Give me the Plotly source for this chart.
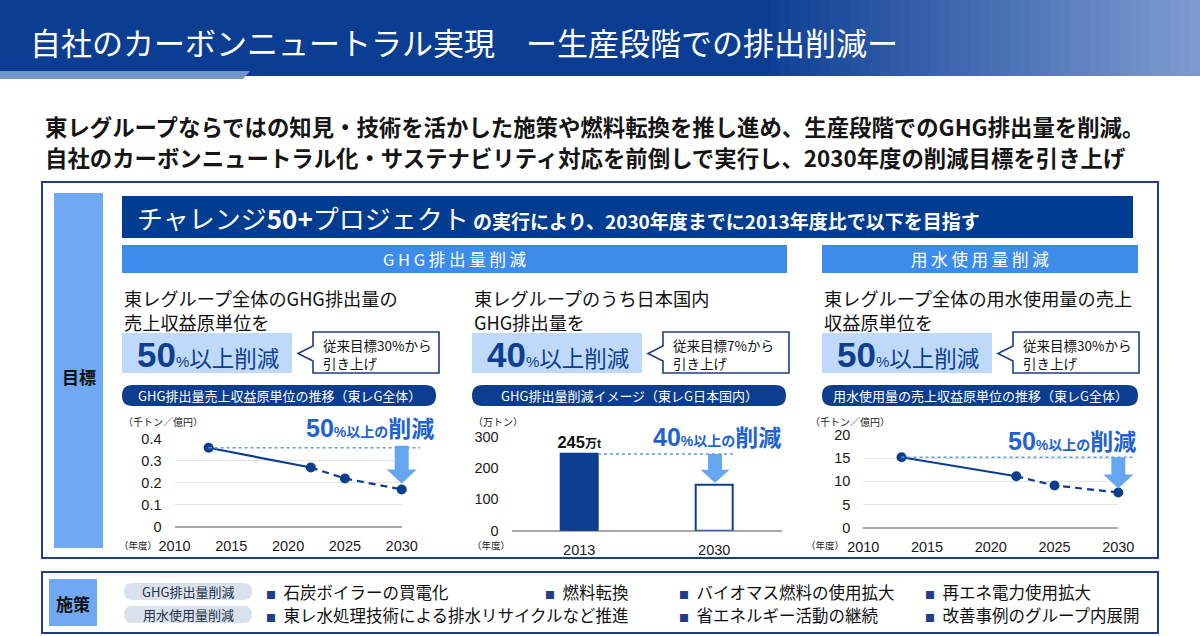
import plotly.graph_objects as go

W, H = 1200, 636

# ---------------- data ----------------
line_years = [2013, 2022, 2025, 2030]
ghg_intensity = [0.36, 0.27, 0.22, 0.17]      # 千トン/億円 (東レG全体)
water_intensity = [15.2, 11.1, 9.1, 7.6]      # 千トン/億円 (東レG全体)
n_actual = 2                                   # solid (actual) points, rest dashed (target)
bar_years = ["2013", "2030"]
japan_ghg = [245, 147]                         # 万トン (東レG日本国内)
line_xticks = [2010, 2015, 2020, 2025, 2030]
ghg_yticks = [0, 0.1, 0.2, 0.3, 0.4]
bar_yticks = [0, 100, 200, 300]
water_yticks = [0, 5, 10, 15, 20]

title_text = "自社のカーボンニュートラル実現　ー生産段階での排出削減ー"
lead_lines = ["東レグループならではの知見・技術を活かした施策や燃料転換を推し進め、生産段階でのGHG排出量を削減。",
              "自社のカーボンニュートラル化・サステナビリティ対応を前倒しで実行し、2030年度の削減目標を引き上げ"]
col_lines = [["東レグループ全体のGHG排出量の", "売上収益原単位を"],
             ["東レグループのうち日本国内", "GHG排出量を"],
             ["東レグループ全体の用水使用量の売上", "収益原単位を"]]
col_targets = ["50", "40", "50"]
col_old = ["従来目標30%から", "従来目標7%から", "従来目標30%から"]
col_pills = ["GHG排出量売上収益原単位の推移（東レG全体）", "GHG排出量削減イメージ（東レG日本国内）",
             "用水使用量の売上収益原単位の推移（東レG全体）"]
chart_emph = ["50", "40", "50"]
unit_labels = ["（千トン／億円）", "（万トン）", "（千トン／億円）"]
measures_row1 = ["石炭ボイラーの買電化", "燃料転換", "バイオマス燃料の使用拡大", "再エネ電力使用拡大"]
measures_row2 = ["東レ水処理技術による排水リサイクルなど推進", "省エネルギー活動の継続", "改善事例のグループ内展開"]

# ---------------- styles ----------------
JP = "Noto Sans CJK JP"
NUM = "Liberation Sans, Noto Sans CJK JP"
NAVY = "#0D3D8E"
HEAD = (11, 62, 147)
BRIGHT = "#3D8CEC"
LIGHTCOL = "#6FA8F3"
PALE = "#BFD9FA"
EMPH = "#1E63CF"
ARROW = "#66A6F0"
DOT = "#5A9BE8"


def X(px):
    return px / W


def Y(py):
    return 1 - py / H


shapes = []
annots = []


def rect(x0, y0, x1, y1, fill, line=None, lw=0):
    shapes.append(dict(type="rect", xref="paper", yref="paper", x0=X(x0), x1=X(x1), y0=Y(y1), y1=Y(y0),
                       fillcolor=fill, line=dict(color=line or fill, width=lw if line else 0), layer="below"))


def poly(pts, fill, line=None, lw=0, layer="below"):
    d = "M" + " L".join(f"{X(a):.5f},{Y(b):.5f}" for a, b in pts) + " Z"
    shapes.append(dict(type="path", xref="paper", yref="paper", path=d, fillcolor=fill,
                       line=dict(color=line or fill, width=lw if line else 0), layer=layer))


def rounded(x0, y0, x1, y1, r, fill):
    p = (f"M{X(x0 + r)},{Y(y0)} L{X(x1 - r)},{Y(y0)} Q{X(x1)},{Y(y0)} {X(x1)},{Y(y0 + r)} "
         f"L{X(x1)},{Y(y1 - r)} Q{X(x1)},{Y(y1)} {X(x1 - r)},{Y(y1)} L{X(x0 + r)},{Y(y1)} "
         f"Q{X(x0)},{Y(y1)} {X(x0)},{Y(y1 - r)} L{X(x0)},{Y(y0 + r)} Q{X(x0)},{Y(y0)} {X(x0 + r)},{Y(y0)} Z")
    shapes.append(dict(type="path", xref="paper", yref="paper", path=p, fillcolor=fill,
                       line=dict(width=0), layer="below"))


def text(x, y, t, size, color="#111", xanchor="left", family=JP, yanchor="middle"):
    annots.append(dict(xref="paper", yref="paper", x=X(x), y=Y(y), text=t, showarrow=False,
                       xanchor=xanchor, yanchor=yanchor, font=dict(size=size, color=color, family=family),
                       borderpad=0))


# ---------------- header ----------------
rect(0, 0, W, 76, "rgb(%d,%d,%d)" % HEAD)
g0, g1 = 760, W
n = 44
end = (128, 156, 210)
for i in range(n):
    t = (i + 0.5) / n
    c = tuple(int(HEAD[k] + (end[k] - HEAD[k]) * t) for k in range(3))
    xa = g0 + (g1 - g0) * i / n
    xb = g0 + (g1 - g0) * (i + 1) / n + 0.6
    rect(xa, 0, xb, 76, "rgb(%d,%d,%d)" % c)
poly([(0, 71), (250, 71), (243, 79), (0, 79)], "#7396D0")
text(29, 42, title_text, 31, "white")

for i, ln in enumerate(lead_lines):
    text(44, 126 + 31 * i, "<b>" + ln + "</b>", 22.4, "#151515")

# ---------------- goals box ----------------
rect(42, 182, 1158, 558, "white", "#1F3C88", 2)
rect(54, 193, 103, 548, LIGHTCOL)
text(78.5, 376, "<b>目標</b>", 17, "#111", "center")

rect(122, 196, 1133, 238, "#003C8F")
text(136, 217, "<span style='font-size:26px'>チャレンジ<b>50+</b>プロジェクト</span>"
               "<b><span style='font-size:19px'> の実行により、2030年度までに2013年度比で以下を目指す</span></b>",
     26, "white")

rect(122, 245, 787, 273, BRIGHT)
rect(822, 245, 1138, 273, BRIGHT)
text(455, 259.5, "G H G 排 出 量 削 減", 16.5, "white", "center")
text(980, 259.5, "用 水 使 用 量 削 減", 16.5, "white", "center")

col_x = [122, 472, 822]
call_x = [313, 663, 1013]
pill_x1 = [436, 786, 1138]
for i in range(3):
    x0 = col_x[i]
    text(x0 + 1, 298, col_lines[i][0], 18.2, "#111")
    text(x0 + 1, 321.5, col_lines[i][1], 18.2, "#111")
    rect(x0, 333, x0 + 170, 373, PALE)
    text(x0 + 86, 354, f"<b><span style='font-size:35px'>{col_targets[i]}</span></b>"
                       "<span style='font-size:15px'>%</span><span style='font-size:22.5px'>以上削減</span>",
         22.5, "#0E3F91", "center", NUM)
    cx = call_x[i]
    poly([(cx, 332), (cx + 126, 332), (cx + 126, 373), (cx, 373), (cx, 361), (cx - 15, 353.5), (cx, 346)],
         "white", "#1F3C88", 1.6)
    text(cx + 9, 345, col_old[i], 13.5, "#111")
    text(cx + 9, 363, "引き上げ", 13.5, "#111")
    rounded(x0, 385, pill_x1[i], 406, 10.5, NAVY)
    text((x0 + pill_x1[i]) / 2, 395.5, col_pills[i], 13, "white", "center")

# ---------------- measures box ----------------
rect(42, 572, 1158, 633, "white", "#1F3C88", 2)
rect(49, 579, 97, 626, LIGHTCOL)
text(73, 603, "<b>施策</b>", 17, "#111", "center")
rounded(124, 583, 252, 600, 8.5, "#D9E1EC")
rounded(124, 606, 252, 623, 8.5, "#D9E1EC")
text(188, 591.5, "GHG排出量削減", 13, "#26324A", "center")
text(188, 614.5, "用水使用量削減", 13, "#26324A", "center")
bul = "<span style='color:#1F3F8A;font-size:10px'>■</span>  "
for xx, t in zip([265, 544, 678, 924], measures_row1):
    text(xx, 591.5, bul + t, 16.5, "#111")
for xx, t in zip([265, 678, 924], measures_row2):
    text(xx, 614.5, bul + t, 16.5, "#111")

# ---------------- charts ----------------
c1 = dict(xd=(174.5, 401.7), yd=(526.7, 439.0), xr=(2010, 2030), yr=(0, 0.4))
c2 = dict(xd=(511.7, 781.7), yd=(530.7, 436.7), xr=(-0.5, 1.5), yr=(0, 300))
c3 = dict(xd=(863.3, 1118.3), yd=(527.7, 435.0), xr=(2010, 2030), yr=(0, 20))


def mx(c, v):
    return c["xd"][0] + (v - c["xr"][0]) / (c["xr"][1] - c["xr"][0]) * (c["xd"][1] - c["xd"][0])


def my(c, v):
    return c["yd"][0] + (v - c["yr"][0]) / (c["yr"][1] - c["yr"][0]) * (c["yd"][1] - c["yd"][0])


def arrow(cx, ytop, ytip, sw=14, hw=30, hh=14):
    poly([(cx - sw / 2, ytop), (cx + sw / 2, ytop), (cx + sw / 2, ytip - hh), (cx + hw / 2, ytip - hh),
          (cx, ytip), (cx - hw / 2, ytip - hh), (cx - sw / 2, ytip - hh)], ARROW, layer="above")


def dotted(x0, x1, y):
    shapes.append(dict(type="line", xref="paper", yref="paper", x0=X(x0), x1=X(x1), y0=Y(y), y1=Y(y),
                       line=dict(color=DOT, width=1.6, dash="dot"), layer="above"))


fig = go.Figure()

for vals, xa, ya in [(ghg_intensity, "x", "y"), (water_intensity, "x3", "y3")]:
    fig.add_trace(go.Scatter(x=line_years[:n_actual], y=vals[:n_actual], mode="lines",
                             line=dict(color=NAVY, width=2.2), xaxis=xa, yaxis=ya, cliponaxis=False))
    fig.add_trace(go.Scatter(x=line_years[n_actual - 1:], y=vals[n_actual - 1:], mode="lines",
                             line=dict(color=NAVY, width=2.2, dash="7px,5px"), xaxis=xa, yaxis=ya,
                             cliponaxis=False))
    fig.add_trace(go.Scatter(x=line_years, y=vals, mode="markers", marker=dict(color=NAVY, size=10),
                             xaxis=xa, yaxis=ya, cliponaxis=False))

fig.add_trace(go.Bar(x=bar_years, y=japan_ghg, width=0.28, xaxis="x2", yaxis="y2",
                     text=[f"<b>{japan_ghg[0]}<span style='font-size:12px'>万t</span></b>", ""],
                     textposition="outside", cliponaxis=False, constraintext="none",
                     textfont=dict(size=16.5, color="#111", family=NUM),
                     marker=dict(color=[NAVY, "white"], line=dict(color=NAVY, width=2))))

# reference lines, arrows, emphasis texts
dotted(mx(c1, line_years[0]), 420, my(c1, ghg_intensity[0]))
arrow(mx(c1, line_years[-1]), my(c1, ghg_intensity[0]) - 2, my(c1, ghg_intensity[-1]) - 6)
dotted(598, 733, my(c2, japan_ghg[0]))
arrow(715, my(c2, japan_ghg[0]), my(c2, japan_ghg[1]) - 2, hw=29, hh=13)
dotted(mx(c3, line_years[0]), 1133, my(c3, water_intensity[0]))
arrow(mx(c3, line_years[-1]), my(c3, water_intensity[0]), my(c3, water_intensity[-1]) - 4)

for xr_, yy, e in [(435, 428, chart_emph[0]), (782, 437, chart_emph[1]), (1137, 441, chart_emph[2])]:
    text(xr_, yy, f"<b><span style='font-size:25px'>{e}</span><span style='font-size:14px'>%以上の</span>"
                  f"<span style='font-size:23px'>削減</span></b>", 23, EMPH, "right", NUM)

for xx, u in zip([122, 472, 809], unit_labels):
    text(xx, 421.5, u, 10, "#222")
for xx in [118, 471, 805]:
    text(xx, 545, "（年度）", 9.5, "#222")

tickfont = dict(size=14.5, color="#1a1a1a", family=NUM)


def xdom(c):
    return [X(c["xd"][0]), X(c["xd"][1])]


def ydom(c):
    return [Y(c["yd"][0]), Y(c["yd"][1])]


common = dict(automargin=False, fixedrange=True, tickfont=tickfont)

fig.update_layout(
    width=W, height=H, margin=dict(l=0, r=0, t=0, b=0, pad=0), autosize=False,
    paper_bgcolor="white", plot_bgcolor="rgba(0,0,0,0)", showlegend=False,
    shapes=shapes, annotations=annots, bargap=0, uniformtext=dict(mode=False),
    xaxis=dict(domain=xdom(c1), range=list(c1["xr"]), tickvals=line_xticks, showgrid=False, zeroline=False,
               showline=False, ticklabelstandoff=9, anchor="y", **common),
    yaxis=dict(domain=ydom(c1), range=list(c1["yr"]), tickvals=ghg_yticks, showgrid=True, gridcolor="#E4E4E4",
               zeroline=True, zerolinecolor="#A8A8A8", zerolinewidth=2,
               ticklabelstandoff=12, anchor="x", **common),
    xaxis2=dict(domain=xdom(c2), range=list(c2["xr"]), type="category", showgrid=False, zeroline=False,
                showline=False, ticklabelstandoff=9, anchor="y2", **common),
    yaxis2=dict(domain=ydom(c2), range=list(c2["yr"]), tickvals=bar_yticks, showgrid=False,
                zeroline=True, zerolinecolor="#A8A8A8", zerolinewidth=2,
                ticklabelstandoff=12, anchor="x2", **common),
    xaxis3=dict(domain=xdom(c3), range=list(c3["xr"]), tickvals=line_xticks, showgrid=False, zeroline=False,
                showline=False, ticklabelstandoff=9, anchor="y3", **common),
    yaxis3=dict(domain=ydom(c3), range=list(c3["yr"]), tickvals=water_yticks, showgrid=True,
                gridcolor="#E4E4E4", zeroline=True, zerolinecolor="#A8A8A8", zerolinewidth=2,
                ticklabelstandoff=12, anchor="x3", **common),
)

fig.write_html("out.html", config={"displayModeBar": False},
               post_script="document.body.style.margin='0';document.body.style.overflow='hidden';")
